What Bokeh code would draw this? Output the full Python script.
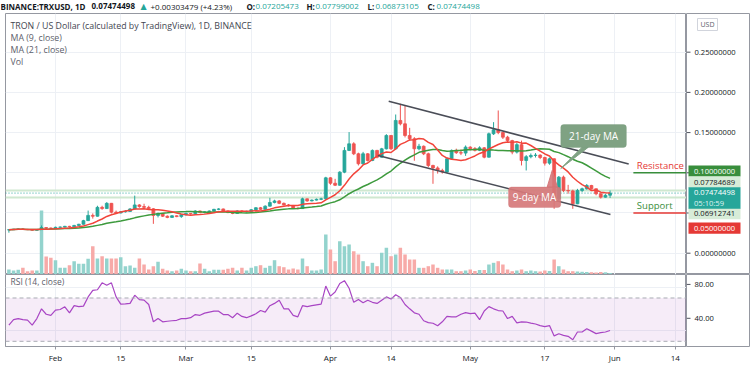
import numpy as np
import pandas as pd
from bokeh.plotting import figure
from bokeh.layouts import column, row
from bokeh.models import (ColumnDataSource, Range1d, FixedTicker, CustomJSTickFormatter,
                          Label, Span, BoxAnnotation)
from bokeh.core.properties import value
from bokeh.embed import file_html
from bokeh.resources import INLINE

# ---------------- data ----------------
start_date = "2021-01-22"
first_open = 0.0290

closes = [
    0.0292, 0.0298, 0.0300, 0.0296, 0.0294, 0.0285, 0.0293, 0.0318, 0.0312, 0.0310,
    0.0322, 0.0325, 0.0334, 0.0328, 0.0345, 0.0360, 0.0405, 0.0470, 0.0460, 0.0570,
    0.0555, 0.0620, 0.0510, 0.0500, 0.0515, 0.0520, 0.0550, 0.0600, 0.0580, 0.0570,
    0.0552, 0.0469, 0.0495, 0.0460, 0.0445, 0.0465, 0.0455, 0.0478,
    0.0495, 0.0490, 0.0525, 0.0505, 0.0515, 0.0525, 0.0545, 0.0550, 0.0525, 0.0505,
    0.0495, 0.0525, 0.0515, 0.0520, 0.0540, 0.0565, 0.0545, 0.0585, 0.0630, 0.0650,
    0.0620, 0.0600, 0.0590, 0.0560, 0.0555, 0.0676, 0.0650, 0.0660, 0.0670, 0.0676, 0.0937,
    0.0870, 0.0845, 0.1008, 0.1278, 0.1360, 0.1236, 0.1112, 0.1236, 0.1153, 0.1278,
    0.1194, 0.1298, 0.1464, 0.1298, 0.1651, 0.1609, 0.1464, 0.1423, 0.1298, 0.1330,
    0.1236, 0.1091, 0.1060, 0.1029, 0.1010, 0.1174, 0.1278, 0.1250, 0.1245, 0.1319,
    0.1300, 0.1280, 0.1310, 0.1194, 0.1485, 0.1535, 0.1500, 0.1443, 0.1400, 0.1257,
    0.1350, 0.1153, 0.1200, 0.1215, 0.1220, 0.1190, 0.1120, 0.1174, 0.0676, 0.0946,
    0.0780, 0.0775, 0.0614, 0.0780, 0.0801, 0.0842, 0.0801, 0.0739, 0.0697, 0.07205473, 0.07474498,
]
highs = [
    0.0300, 0.0303, 0.0306, 0.0310, 0.0302, 0.0298, 0.0300, 0.0345, 0.0325, 0.0318,
    0.0330, 0.0332, 0.0340, 0.0340, 0.0352, 0.0365, 0.0415, 0.0530, 0.0495, 0.0590,
    0.0590, 0.0635, 0.0625, 0.0530, 0.0525, 0.0535, 0.0560, 0.0716, 0.0610, 0.0615,
    0.0590, 0.0560, 0.0505, 0.0500, 0.0470, 0.0472, 0.0470, 0.0485,
    0.0505, 0.0500, 0.0535, 0.0530, 0.0522, 0.0532, 0.0552, 0.0560, 0.0555, 0.0530,
    0.0512, 0.0535, 0.0535, 0.0528, 0.0548, 0.0572, 0.0575, 0.0595, 0.0689, 0.0665,
    0.0660, 0.0630, 0.0612, 0.0600, 0.0570, 0.0690, 0.0680, 0.0668, 0.0680, 0.0690, 0.0950,
    0.0945, 0.0925, 0.1020, 0.1319, 0.1506, 0.1380, 0.1250, 0.1260, 0.1245, 0.1290,
    0.1285, 0.1310, 0.1480, 0.1470, 0.1725, 0.1858, 0.1837, 0.1559, 0.1443, 0.1360,
    0.1340, 0.1250, 0.1100, 0.1080, 0.1050, 0.1190, 0.1290, 0.1300, 0.1290, 0.1340,
    0.1330, 0.1320, 0.1330, 0.1320, 0.1500, 0.1630, 0.1775, 0.1510, 0.1460, 0.1410,
    0.1370, 0.1400, 0.1220, 0.1240, 0.1245, 0.1230, 0.1200, 0.1190, 0.1180, 0.0960,
    0.0965, 0.0850, 0.0790, 0.0800, 0.0815, 0.0860, 0.0850, 0.0805, 0.0745, 0.0735, 0.07799002,
]
lows = [
    0.0255, 0.0288, 0.0292, 0.0290, 0.0288, 0.0278, 0.0282, 0.0290, 0.0300, 0.0302,
    0.0305, 0.0315, 0.0320, 0.0318, 0.0325, 0.0338, 0.0355, 0.0400, 0.0430, 0.0455,
    0.0540, 0.0550, 0.0495, 0.0490, 0.0495, 0.0505, 0.0515, 0.0545, 0.0565, 0.0555,
    0.0540, 0.0365, 0.0445, 0.0450, 0.0435, 0.0440, 0.0448, 0.0440,
    0.0470, 0.0478, 0.0485, 0.0498, 0.0495, 0.0508, 0.0520, 0.0535, 0.0518, 0.0498,
    0.0485, 0.0490, 0.0505, 0.0505, 0.0512, 0.0535, 0.0538, 0.0540, 0.0580, 0.0620,
    0.0610, 0.0595, 0.0580, 0.0552, 0.0545, 0.0550, 0.0640, 0.0645, 0.0655, 0.0660, 0.0665,
    0.0850, 0.0835, 0.0840, 0.0995, 0.1270, 0.1220, 0.1091, 0.1100, 0.1140, 0.1145,
    0.1180, 0.1190, 0.1290, 0.1285, 0.1290, 0.1590, 0.1440, 0.1400, 0.1150, 0.1280,
    0.1220, 0.1070, 0.0863, 0.0990, 0.0990, 0.0995, 0.1160, 0.1235, 0.1220, 0.1210,
    0.1280, 0.1265, 0.1270, 0.1180, 0.1190, 0.1470, 0.1480, 0.1420, 0.1380, 0.1230,
    0.1240, 0.1091, 0.1029, 0.1180, 0.1190, 0.1170, 0.1090, 0.1100, 0.0552, 0.0660,
    0.0760, 0.0740, 0.0552, 0.0610, 0.0760, 0.0790, 0.0790, 0.0720, 0.0680, 0.0690, 0.06873105,
]
volumes = [
    50, 40, 47, 67, 33, 40, 40, 640, 180, 167,
    143, 67, 67, 93, 133, 107, 107, 157, 283, 160,
    183, 160, 160, 160, 173, 83, 90, 67, 160, 100,
    50, 83, 127, 57, 40, 33, 40, 57,
    40, 33, 33, 110, 57, 33, 47, 47, 47, 57,
    67, 40, 67, 40, 67, 83, 93, 67, 87, 143,
    83, 73, 50, 60, 50, 160, 83, 40, 40, 50, 400,
    250, 133, 333, 283, 300, 233, 200, 133, 83, 117,
    83, 217, 267, 183, 200, 267, 200, 150, 150, 67,
    67, 83, 100, 67, 50, 50, 50, 33, 33, 40,
    50, 35, 45, 45, 100, 117, 133, 100, 50, 33,
    40, 50, 33, 40, 33, 30, 40, 35, 150, 83,
    50, 33, 33, 30, 27, 25, 23, 20, 25, 22, 15,
]
rsi = [
    45, 50, 51, 50, 49.5, 45, 51, 60, 55, 54,
    58.8, 59.4, 61.9, 56.3, 63, 62, 62.5, 71, 77, 77.6,
    84, 81.8, 84, 71, 64.3, 64.5, 65, 72.6, 68.5, 68,
    64, 48, 51, 48, 48.5, 49, 49.4, 51,
    51, 51.8, 54.7, 54, 56, 57, 57.8, 57.8, 54.7, 54.7,
    51.8, 56, 53, 51.8, 53.5, 55.4, 58.4, 57, 62.9, 65,
    68, 60, 60, 54, 52.6, 62.9, 62, 63, 63.7, 64.3, 81,
    71.7, 75.5, 83.4, 86, 79, 66, 68.6, 65.6, 67.9, 66,
    65, 68, 71, 69, 73, 70.5, 64, 60, 56.3, 55,
    49, 47.3, 46.7, 44.3, 48, 53, 52.6, 52.6, 55, 56.5,
    55.5, 56, 50, 58, 62, 60, 58.4, 58, 51, 53,
    47, 48, 47.8, 46.8, 46, 44.5, 43.5, 44.5, 35, 37,
    35.5, 34.6, 31.4, 38.6, 38.6, 41.6, 39.4, 37.1, 38, 38.6, 40,
]
tick_dates = ["2021-02-01", "2021-02-15", "2021-03-01", "2021-03-15", "2021-04-01",
              "2021-04-14", "2021-05-01", "2021-05-17", "2021-06-01", "2021-06-14"]
tick_labels = ["Feb", "15", "Mar", "15", "Apr", "14", "May", "17", "Jun", "14"]
price_ticks = [0.0, 0.05, 0.10, 0.15, 0.20, 0.25]
rsi_ticks = [40, 80]

# drawings on the chart (date, price)
upper_channel = [("2021-04-13 12:00", 0.1890), ("2021-06-04 00:00", 0.1110)]
lower_channel = [("2021-04-11 05:00", 0.1215), ("2021-05-31 02:00", 0.0481)]
resistance_level = 0.10
support_level = 0.05
last_price = 0.07474498
band_high = 0.07784689
band_low = 0.06912741
countdown = "05:10:59"

# ---------------- helpers / styles ----------------
ORIGIN = pd.Timestamp("2021-02-01")
def dnum(s):
    return (pd.Timestamp(s) - ORIGIN) / pd.Timedelta(days=1)

FONT = "Open Sans"
TEAL, RED = "#26a69a", "#ef5350"
TEAL_V, RED_V = "#93d3cd", "#f7aaa8"
GRID = "#edf0f5"
BORDER = "#9598a1"
TXT = "#131722"
LIGHT_TAG = "#d7ecd8"

Y0, Y1 = -0.0265, 0.2981            # main pane price range (frame rows 13..274)
R0, R1 = 25.2, 91.7                 # RSI pane range (frame rows 275..347)
def pe(ref_y):                      # pixel row -> position on the price scale
    return Y1 - (ref_y - 13.0) * (Y1 - Y0) / 261.0

dates = pd.date_range(start_date, periods=len(closes), freq="D")
x = list((dates - ORIGIN) / pd.Timedelta(days=1))
opens = [first_open] + closes[:-1]
up = [c >= o for o, c in zip(opens, closes)]
ma9 = pd.Series(closes).rolling(9, min_periods=1).mean().tolist()
ma21 = pd.Series(closes).rolling(21, min_periods=1).mean().tolist()

src = ColumnDataSource(dict(
    x=x, open=opens, close=closes, high=highs, low=lows, vol=volumes,
    top=[max(o, c) for o, c in zip(opens, closes)],
    bottom=[min(o, c) for o, c in zip(opens, closes)],
    color=[TEAL if u else RED for u in up],
    vcolor=[TEAL_V if u else RED_V for u in up],
    ma9=ma9, ma21=ma21, rsi=rsi,
))

tick_x = [dnum(d) for d in tick_dates]
xr = Range1d(-10.73, 135.4)
yr_main = Range1d(Y0, Y1)
yr_rsi = Range1d(R0, R1)

def bare(fig):
    fig.grid.visible = False
    fig.outline_line_color = None
    return fig

# ---------------- header ----------------
hdr = bare(figure(width=750, height=13, x_range=Range1d(0, 750), y_range=Range1d(13, 0),
                  x_axis_location=None, y_axis_location=None, toolbar_location=None,
                  output_backend="svg", min_border=0, background_fill_color="white",
                  border_fill_color="white"))
header = [
    ("BINANCE:TRXUSD, 1D", 0, TXT, "bold", FONT),
    ("0.07474498", 91, TXT, "bold", FONT),
    ("\u25B2", 140, TEAL, "normal", "DejaVu Sans"),
    ("+0.00303479 (+4.23%)", 150, TXT, "normal", FONT),
    ("O:", 246, TXT, "bold", FONT), ("0.07205473", 255, TEAL, "normal", FONT),
    ("H:", 306, TXT, "bold", FONT), ("0.07799002", 315, TEAL, "normal", FONT),
    ("L:", 367, TXT, "bold", FONT), ("0.06873105", 375, TEAL, "normal", FONT),
    ("C:", 427, TXT, "bold", FONT), ("0.07474498", 436, TEAL, "normal", FONT),
]
for text, hx, col, style, fnt in header:
    hdr.text(x=[hx], y=[5.5], text=[text], text_font=value(fnt), text_font_size="8px",
             text_font_style=style, text_color=col, text_baseline="middle")

# ---------------- main pane ----------------
p = figure(frame_width=681, frame_height=261, x_range=xr, y_range=yr_main,
           x_axis_location=None, y_axis_location=None, toolbar_location=None,
           output_backend="svg", min_border_left=5, min_border_right=0,
           min_border_top=0, min_border_bottom=0,
           background_fill_color="white", border_fill_color="white")
p.outline_line_color = BORDER
p.extra_y_ranges = {"vol": Range1d(0, 2610)}
p.xgrid.ticker = FixedTicker(ticks=tick_x)
p.ygrid.ticker = FixedTicker(ticks=price_ticks)
p.xgrid.grid_line_color = GRID
p.ygrid.grid_line_color = GRID

for lvl in (band_high, band_low):
    p.add_layout(Span(location=lvl, dimension="width", line_color="#cfe8d0", line_width=2,
                      level="underlay"))
p.add_layout(Span(location=last_price, dimension="width", line_color=TEAL, line_width=1,
                  line_dash="1 2", level="underlay"))

p.vbar(x="x", width=0.75, top="vol", bottom=0, y_range_name="vol", source=src,
       fill_color="vcolor", line_color=None)
p.segment(x0="x", y0="low", x1="x", y1="high", color="color", line_width=1, source=src)
p.vbar(x="x", width=0.62, top="top", bottom="bottom", fill_color="color", line_color="color",
       line_width=0.8, source=src)
p.line(x="x", y="ma21", source=src, line_color="#3d9a3d", line_width=1.5)
p.line(x="x", y="ma9", source=src, line_color="#f2443a", line_width=1.5)

for seg in (upper_channel, lower_channel):
    p.line([dnum(seg[0][0]), dnum(seg[1][0])], [seg[0][1], seg[1][1]],
           line_color="#4a4d57", line_width=1.6)

p.segment(x0=[dnum("2021-06-05")], y0=[resistance_level], x1=[dnum("2021-06-25")],
          y1=[resistance_level], line_color="#388e3c", line_width=1.5)
p.segment(x0=[dnum("2021-06-05")], y0=[support_level], x1=[dnum("2021-06-25")],
          y1=[support_level], line_color="#e53935", line_width=1.5)
p.add_layout(Label(x=dnum("2021-06-05 18:00"), y=resistance_level, text="Resistance",
                   text_font=FONT, text_font_size="9.5px", text_color="#e53935",
                   text_baseline="bottom", y_offset=1))
p.add_layout(Label(x=dnum("2021-06-05 18:00"), y=support_level, text="Support",
                   text_font=FONT, text_font_size="9.5px", text_color="#388e3c",
                   text_baseline="bottom", y_offset=1))

# callouts
p.patch([dnum("2021-05-25 00:00"), dnum("2021-05-26 08:00"), dnum("2021-05-20 10:00")],
        [0.1318, 0.1318, 0.1053], fill_color="#7fa283", line_color="#7fa283", line_width=1)
p.add_layout(BoxAnnotation(left=dnum("2021-05-20 10:00"), right=dnum("2021-06-03 12:00"),
                           top=0.160, bottom=0.1315, fill_color="#7fa283", fill_alpha=1.0,
                           line_color="#6f9673", border_radius=3))
p.add_layout(Label(x=dnum("2021-05-27 11:00"), y=0.1458, text="21-day MA", text_font=FONT,
                   text_font_size="10px", text_color="white", text_align="center",
                   text_baseline="middle"))
p.patch([dnum("2021-05-17 12:00"), dnum("2021-05-19 17:00"), dnum("2021-05-18 14:00")],
        [0.0821, 0.0821, 0.1029], fill_color="#d6787a", line_color="#d6787a", fill_alpha=0.9)
p.add_layout(BoxAnnotation(left=dnum("2021-05-09 05:00"), right=dnum("2021-05-20 10:00"),
                           top=0.0823, bottom=0.0568, fill_color="#d6787a", fill_alpha=0.92,
                           line_color="#c96a6c", border_radius=3))
p.add_layout(Label(x=dnum("2021-05-14 19:00"), y=0.0696, text="9-day MA", text_font=FONT,
                   text_font_size="10px", text_color="white", text_align="center",
                   text_baseline="middle"))

legend_lines = [("TRON / US Dollar (calculated by TradingView), 1D, BINANCE", 25, "#434651"),
                ("MA (9, close)", 37, "#5d606b"), ("MA (21, close)", 49, "#5d606b"),
                ("Vol", 61, "#5d606b")]
for text, ry, col in legend_lines:
    p.add_layout(Label(x=5, y=274 - ry, x_units="screen", y_units="screen", text=text,
                       text_font=FONT, text_font_size="8.8px", text_color=col,
                       text_baseline="middle"))

# ---------------- main price scale (right) ----------------
ax = figure(width=64, height=261, x_range=Range1d(0, 64), y_range=yr_main,
            x_axis_location=None, y_axis_location=None, toolbar_location=None,
            output_backend="svg", min_border=0, background_fill_color="white",
            border_fill_color="white")
ax.grid.visible = False
ax.outline_line_color = BORDER
ax.segment(x0=[0] * len(price_ticks), x1=[4] * len(price_ticks), y0=price_ticks,
           y1=price_ticks, line_color="#50535e", line_width=1)
ax.text(x=[8] * len(price_ticks), y=price_ticks, text=[f"{t:.8f}" for t in price_ticks],
        text_font=value(FONT), text_font_size="7.6px", text_color=TXT, text_baseline="middle")

tags = [  # text, centre row, background, text colour
    ("0.10000000", 170.5, "#388e3c", "white"),
    ("0.07784689", 181.6, LIGHT_TAG, TXT),
    ("0.06912741", 213.2, LIGHT_TAG, TXT),
    ("0.05000000", 227.6, "#e53935", "white"),
]
for text, ry, bg, fg in tags:
    ax.quad(left=2, right=54, top=pe(ry - 5.6), bottom=pe(ry + 5.6), fill_color=bg,
            line_color=None)
    ax.text(x=[7.5], y=[pe(ry)], text=[text], text_font=value(FONT), text_font_size="7.6px",
            text_color=fg, text_baseline="middle")
ax.quad(left=2, right=54, top=pe(186.8), bottom=pe(208.2), fill_color=TEAL, line_color=None)
ax.text(x=[7.5], y=[pe(192.4)], text=[f"{last_price:.8f}"], text_font=value(FONT),
        text_font_size="7.6px", text_color="white", text_baseline="middle")
ax.text(x=[7.5], y=[pe(202.6)], text=[countdown], text_font=value(FONT),
        text_font_size="7.6px", text_color="#dff3f1", text_baseline="middle")
ax.quad(left=11, right=31, top=pe(18), bottom=pe(30), fill_color="white",
        line_color="#d1d4dc", line_width=1)
ax.text(x=[21], y=[pe(24)], text=["USD"], text_font=value(FONT), text_font_size="7px",
        text_color="#5d606b", text_baseline="middle", text_align="center")

# ---------------- RSI pane ----------------
p2 = figure(frame_width=681, frame_height=72, x_range=xr, y_range=yr_rsi,
            y_axis_location=None, toolbar_location=None, output_backend="svg",
            min_border_left=5, min_border_right=0, min_border_top=0, min_border_bottom=20,
            background_fill_color="white", border_fill_color="white")
p2.outline_line_color = BORDER
p2.xaxis.ticker = FixedTicker(ticks=tick_x)
p2.xaxis.formatter = CustomJSTickFormatter(
    args=dict(tvals=tick_x, tlabels=tick_labels),
    code="const i = tvals.findIndex(t => Math.abs(t - tick) < 1e-6); return i >= 0 ? tlabels[i] : '';")
p2.xaxis.major_label_text_font = FONT
p2.xaxis.major_label_text_font_size = "8px"
p2.xaxis.major_label_text_color = TXT
p2.xaxis.axis_line_color = BORDER
p2.xaxis.major_tick_line_color = BORDER
p2.xaxis.major_tick_in = 0
p2.xaxis.major_tick_out = 3
p2.xaxis.minor_tick_line_color = None
p2.xaxis.major_label_standoff = 2
p2.xgrid.grid_line_color = GRID
p2.ygrid.ticker = FixedTicker(ticks=rsi_ticks)
p2.ygrid.grid_line_color = GRID

p2.add_layout(BoxAnnotation(bottom=30, top=70, fill_color="#9c27b0", fill_alpha=0.09,
                            line_color=None, level="underlay"))
for lvl in (70, 30):
    p2.add_layout(Span(location=lvl, dimension="width", line_color="#a8abb3",
                       line_dash="4 3", line_width=1))
p2.line(x="x", y="rsi", source=src, line_color="#a845c4", line_width=1.2)
p2.add_layout(Label(x=5, y=65, x_units="screen", y_units="screen",
                    text="RSI (14, close)", text_font=FONT, text_font_size="8.5px",
                    text_color="#5d606b", text_baseline="middle"))

# RSI scale (right), extends down over the time-axis strip
R_EXT = R0 - 20 * (R1 - R0) / 72.0
ax2 = figure(width=64, height=92, x_range=Range1d(0, 64), y_range=Range1d(R_EXT, R1),
             x_axis_location=None, y_axis_location=None, toolbar_location=None,
             output_backend="svg", min_border=0, background_fill_color="white",
             border_fill_color="white")
ax2.grid.visible = False
ax2.outline_line_color = BORDER
ax2.segment(x0=[0] * len(rsi_ticks), x1=[4] * len(rsi_ticks), y0=rsi_ticks, y1=rsi_ticks,
            line_color="#50535e", line_width=1)
ax2.text(x=[8] * len(rsi_ticks), y=rsi_ticks, text=[f"{t:.2f}" for t in rsi_ticks],
         text_font=value(FONT), text_font_size="7.6px", text_color=TXT, text_baseline="middle")

# bottom border strip
bot = figure(width=750, height=1, x_axis_location=None, y_axis_location=None,
             toolbar_location=None, output_backend="svg", min_border=0,
             background_fill_color=BORDER, border_fill_color=BORDER)
bot.grid.visible = False
bot.outline_line_color = None

layout = column(hdr, row(p, ax, spacing=0), row(p2, ax2, spacing=0), bot, spacing=0)
open("out.html", "w").write(file_html(layout, INLINE))
